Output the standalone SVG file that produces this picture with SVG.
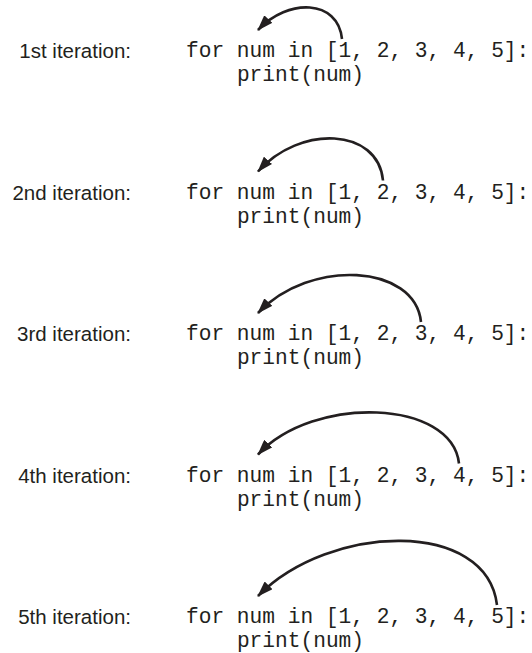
<svg xmlns="http://www.w3.org/2000/svg" width="532" height="653" viewBox="0 0 532 653">
<style>
.lbl{font-family:"Liberation Sans",Arial,sans-serif;font-size:20.5px;fill:#231f20;text-anchor:end}
.code{font-family:"Liberation Mono","Courier New",monospace;font-size:21.2px;fill:#231f20}
.arc{fill:none;stroke:#231f20;stroke-width:2.6}
</style>
<defs>
<marker id="ah" viewBox="0 0 16 11" refX="15" refY="5.5" markerWidth="16" markerHeight="11" markerUnits="userSpaceOnUse" orient="auto">
<path d="M0,0 L16,5.5 L0,11 z" fill="#231f20"/>
</marker>
</defs>
<rect width="532" height="653" fill="#ffffff"/>
<g id="iter1">
<text class="lbl" x="131" y="58">1st iteration:</text>
<text class="code" x="186" y="57">for num in [1, 2, 3, 4, 5]:</text>
<text class="code" x="236.9" y="81">print(num)</text>
</g>
<g id="iter2">
<text class="lbl" x="131" y="199.5">2nd iteration:</text>
<text class="code" x="186" y="198.5">for num in [1, 2, 3, 4, 5]:</text>
<text class="code" x="236.9" y="222.5">print(num)</text>
</g>
<g id="iter3">
<text class="lbl" x="131" y="341">3rd iteration:</text>
<text class="code" x="186" y="340">for num in [1, 2, 3, 4, 5]:</text>
<text class="code" x="236.9" y="364">print(num)</text>
</g>
<g id="iter4">
<text class="lbl" x="131" y="482.5">4th iteration:</text>
<text class="code" x="186" y="481.5">for num in [1, 2, 3, 4, 5]:</text>
<text class="code" x="236.9" y="505.5">print(num)</text>
</g>
<g id="iter5">
<text class="lbl" x="131" y="624">5th iteration:</text>
<text class="code" x="186" y="623">for num in [1, 2, 3, 4, 5]:</text>
<text class="code" x="236.9" y="647">print(num)</text>
</g>
<g id="connectors">
<path class="arc" marker-end="url(#ah)" d="M342,39 C338,-1 288,-2 258,30"/>
<path class="arc" marker-end="url(#ah)" d="M383,180.5 C378,127.5 300,124.5 258,171.5"/>
<path class="arc" marker-end="url(#ah)" d="M421,322 C415,264 310,258 258,313"/>
<path class="arc" marker-end="url(#ah)" d="M459,463.5 C452,399.5 314,394.5 258,454.5"/>
<path class="arc" marker-end="url(#ah)" d="M497,605 C487,519 330,523 258,596"/>
</g>
</svg>
